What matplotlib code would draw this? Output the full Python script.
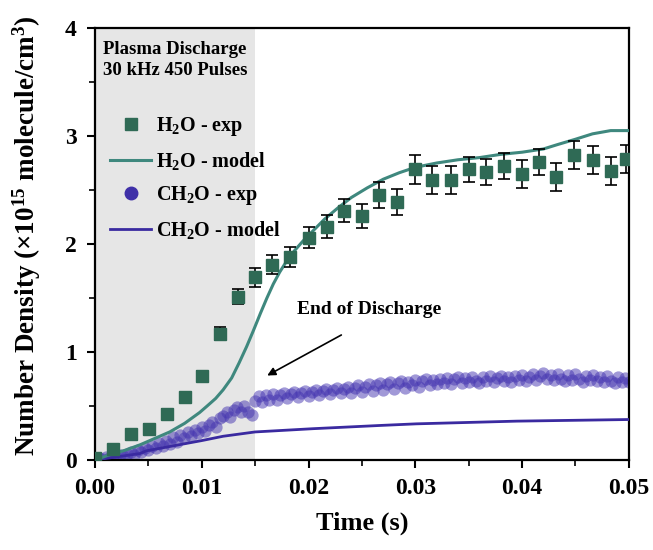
import numpy as np
import matplotlib
matplotlib.use('Agg')
import matplotlib.pyplot as plt
from matplotlib.ticker import MultipleLocator, FormatStrFormatter

plt.rcParams['font.family'] = ['Liberation Serif', 'DejaVu Serif']
plt.rcParams['font.weight'] = 'bold'
plt.rcParams['mathtext.default'] = 'regular'

# H2O experiment (squares with error bars)
h2o_t = [0.0000, 0.0017, 0.0034, 0.0051, 0.0067, 0.0084, 0.0100, 0.0117, 0.0134, 0.0150,
         0.0166, 0.0183, 0.0200, 0.0217, 0.0233, 0.0250, 0.0266, 0.0283, 0.0300, 0.0316,
         0.0333, 0.0350, 0.0366, 0.0383, 0.0400, 0.0416, 0.0432, 0.0449, 0.0466, 0.0483, 0.0497]
h2o_exp = [0.02, 0.10, 0.24, 0.29, 0.43, 0.58, 0.78, 1.17, 1.51, 1.69,
           1.81, 1.88, 2.06, 2.16, 2.31, 2.26, 2.45, 2.39, 2.69, 2.59,
           2.59, 2.69, 2.67, 2.72, 2.65, 2.76, 2.62, 2.82, 2.78, 2.68, 2.79]
h2o_err = [0.02, 0.03, 0.04, 0.04, 0.04, 0.04, 0.04, 0.06, 0.07, 0.085,
           0.085, 0.09, 0.10, 0.107, 0.11, 0.11, 0.12, 0.12, 0.13, 0.13,
           0.13, 0.12, 0.12, 0.12, 0.13, 0.12, 0.13, 0.13, 0.13, 0.13, 0.13]

# H2O model
h2o_model_t = [0.0, 0.0014, 0.0028, 0.0042, 0.0056, 0.0070, 0.0084, 0.0098, 0.0105, 0.0113,
               0.0120, 0.0128, 0.0135, 0.0142, 0.0148, 0.0155, 0.0161, 0.0167, 0.0173, 0.0180,
               0.0187, 0.0195, 0.0205, 0.0215, 0.0227, 0.0240, 0.0255, 0.0270, 0.0285, 0.0300,
               0.0320, 0.0340, 0.0360, 0.0380, 0.0400, 0.0420, 0.0433, 0.0450, 0.0466, 0.0483,
               0.0500]
h2o_model = [0.0, 0.05, 0.09, 0.14, 0.20, 0.26, 0.34, 0.44, 0.50, 0.57,
             0.65, 0.76, 0.90, 1.05, 1.19, 1.36, 1.50, 1.63, 1.74, 1.85,
             1.94, 2.03, 2.13, 2.23, 2.33, 2.43, 2.52, 2.60, 2.66, 2.71,
             2.75, 2.78, 2.80, 2.83, 2.85, 2.88, 2.92, 2.97, 3.02, 3.05,
             3.05]

# CH2O model
ch2o_model_t = [0.0, 0.0042, 0.0048, 0.0100, 0.0120, 0.0150, 0.0204, 0.0267, 0.0301, 0.0395, 0.0500]
ch2o_model = [0.0, 0.06, 0.085, 0.18, 0.22, 0.26, 0.29, 0.32, 0.335, 0.36, 0.375]

# CH2O experiment, one sample every 1/3000 s
ch2o_exp = [0.01, 0.02, 0.01, 0.03, 0.02, 0.04, 0.03, 0.05, 0.04, 0.06,
            0.07, 0.05, 0.09, 0.07, 0.11, 0.09, 0.13, 0.11, 0.16, 0.13,
            0.18, 0.15, 0.21, 0.17, 0.23, 0.20, 0.26, 0.22, 0.28, 0.25,
            0.31, 0.27, 0.32, 0.35, 0.31, 0.39, 0.41, 0.44, 0.40, 0.46,
            0.49, 0.44, 0.50, 0.44, 0.42, 0.55, 0.59, 0.54, 0.60, 0.56,
            0.61, 0.56, 0.60, 0.62, 0.57, 0.61, 0.63, 0.58, 0.62, 0.64,
            0.59, 0.63, 0.65, 0.60, 0.64, 0.66, 0.61, 0.65, 0.67, 0.62,
            0.66, 0.68, 0.62, 0.67, 0.69, 0.63, 0.68, 0.70, 0.64, 0.69,
            0.71, 0.65, 0.70, 0.72, 0.66, 0.71, 0.73, 0.67, 0.72, 0.69,
            0.74, 0.68, 0.73, 0.75, 0.69, 0.74, 0.70, 0.75, 0.71, 0.76,
            0.70, 0.75, 0.77, 0.71, 0.76, 0.72, 0.77, 0.73, 0.71, 0.77,
            0.73, 0.78, 0.72, 0.76, 0.78, 0.73, 0.77, 0.72, 0.78, 0.74,
            0.79, 0.73, 0.77, 0.80, 0.74, 0.78, 0.81, 0.75, 0.79, 0.74,
            0.80, 0.75, 0.73, 0.79, 0.74, 0.80, 0.75, 0.72, 0.78, 0.74,
            0.79, 0.73, 0.77, 0.72, 0.78, 0.73, 0.71, 0.77, 0.72, 0.76, 0.72]
ch2o_t = np.arange(len(ch2o_exp)) / 3000.0

fig = plt.figure(figsize=(6.53, 5.5), dpi=100)
ax = fig.add_axes([0.1455, 0.1636, 0.8175, 0.7855])

ax.axvspan(0, 0.015, color='#e6e6e6', zorder=0, lw=0)

ax.scatter(ch2o_t, ch2o_exp, s=78, color='#4434b0', alpha=0.5, lw=0, zorder=2)
ax.plot(ch2o_model_t, ch2o_model, color='#3a2aa0', lw=2.0, zorder=3)
ax.plot(h2o_model_t, h2o_model, color='#3f887e', lw=2.2, zorder=3)
ax.errorbar(h2o_t, h2o_exp, yerr=h2o_err, fmt='s', ms=8.5, color='#2f6a55',
            ecolor='black', elinewidth=1.2, capsize=4.3, capthick=1.2, zorder=4)

# legend handles
hs = ax.plot([], [], 's', ms=8.5, color='#2f6a55')[0]
hl = ax.plot([], [], color='#3f887e', lw=2.2)[0]
cs = ax.plot([], [], 'o', ms=9, color='#3f30a8')[0]
cl = ax.plot([], [], color='#3a2aa0', lw=2.0)[0]
ax.legend([hs, hl, cs, cl],
          ['H$_2$O - exp', 'H$_2$O - model', 'CH$_2$O - exp', 'CH$_2$O - model'],
          loc='upper left', bbox_to_anchor=(-0.005, 0.84), frameon=False,
          fontsize=14.5, handlelength=2.0, handletextpad=0.25, labelspacing=0.6)

ax.text(0.015, 0.97, 'Plasma Discharge\n30 kHz 450 Pulses', transform=ax.transAxes,
        fontsize=13.5, fontweight='bold', va='top', ha='left', linespacing=1.3)

ax.annotate('', xy=(0.0159, 0.77), xytext=(0.0233, 1.17),
            arrowprops=dict(arrowstyle='-|>', color='black', lw=1.2, mutation_scale=12))
ax.text(0.0189, 1.39, 'End of Discharge', fontsize=14, fontweight='bold',
        va='center', ha='left')

ax.set_xlim(0, 0.05)
ax.set_ylim(0, 4)
ax.xaxis.set_major_locator(MultipleLocator(0.01))
ax.xaxis.set_minor_locator(MultipleLocator(0.005))
ax.yaxis.set_major_locator(MultipleLocator(1))
ax.yaxis.set_minor_locator(MultipleLocator(0.5))
ax.xaxis.set_major_formatter(FormatStrFormatter('%.2f'))
ax.tick_params(which='major', direction='out', length=6, width=1.5, labelsize=17, pad=7)
ax.tick_params(which='minor', direction='out', length=4, width=1.2)
for lab in ax.get_xticklabels() + ax.get_yticklabels():
    lab.set_fontweight('bold')
for sp in ax.spines.values():
    sp.set_linewidth(1.6)

ax.set_xlabel('Time (s)', fontsize=19, fontweight='bold', labelpad=9)
ax.set_ylabel('Number Density (×10$^{15}$ molecule/cm$^{3}$)', fontsize=19.5,
              fontweight='bold')
ax.yaxis.set_label_coords(-0.098, 0.52)

fig.savefig('out.png', dpi=100)
